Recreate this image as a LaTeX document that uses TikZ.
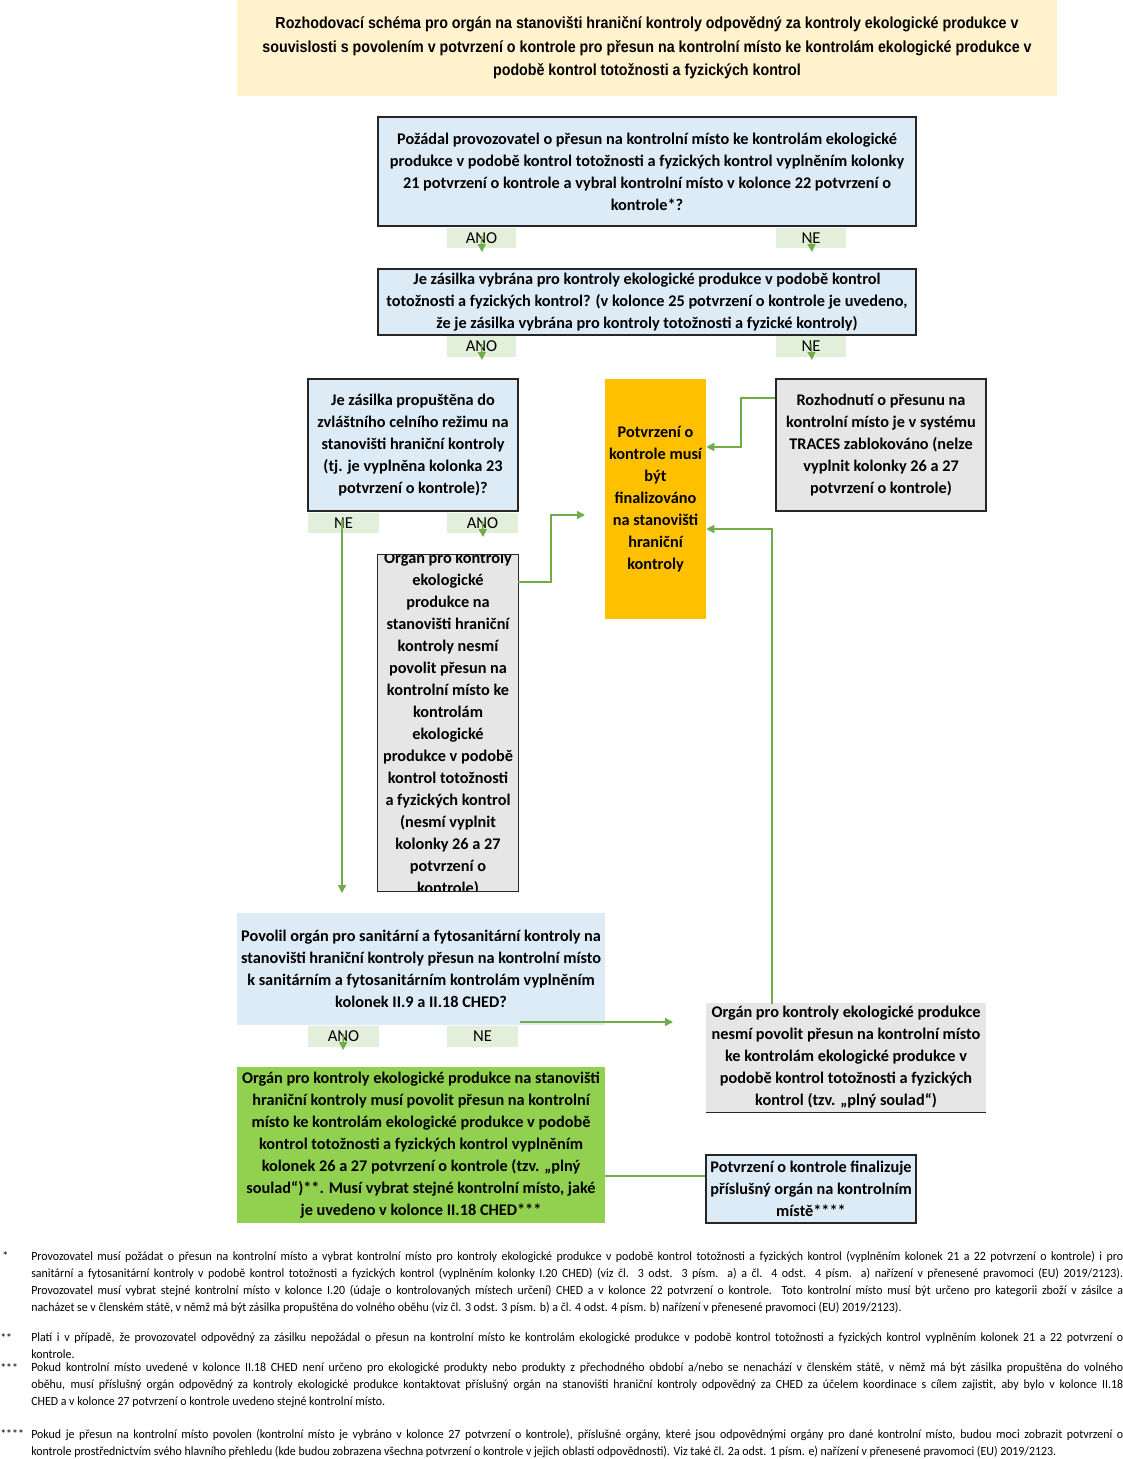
\documentclass[tikz,border=0pt]{standalone}
\usepackage{fontspec}
\setmainfont{Carlito}
\newfontfamily\titlefont[FakeStretch=0.89]{Liberation Sans}
\newfontfamily\fnfont[FakeStretch=0.95]{Carlito}
\usetikzlibrary{arrows.meta}
\definecolor{titlebg}{HTML}{FFF2CC}
\definecolor{lblue}{HTML}{DDEBF7}
\definecolor{lgreen}{HTML}{E2EFDA}
\definecolor{lgray}{HTML}{E7E6E6}
\definecolor{orng}{HTML}{FFC000}
\definecolor{grn}{HTML}{92D050}
\definecolor{conn}{HTML}{70AD47}
\definecolor{bord}{HTML}{262626}
\newcommand\mybox[7]{%
  \pgfmathsetmacro\bw{(#5-#3)*0.75}%
  \pgfmathsetmacro\bh{(#6-#4)*0.75}%
  \node[#2, minimum width=\bw pt, minimum height=\bh pt] (#1) at ({(#3+#5)/2},{(#4+#6)/2}) {#7};}
\begin{document}
\begin{tikzpicture}[x=0.75pt,y=-0.75pt,
  boxtxt/.style={align=center, font=\fontsize{12.2}{16.5}\selectfont\bfseries, inner sep=0pt, text=black},
  qbox/.style={boxtxt, fill=lblue, draw=bord, line width=1.1pt},
  gbox/.style={boxtxt, fill=lgray, draw=bord, line width=1.1pt},
  lbl/.style={fill=lgreen, font=\fontsize{12.5}{14}\selectfont, inner sep=0pt},
  arr/.style={draw=conn, line width=1.1pt, -{Triangle[length=6pt,width=6pt]}},
  ln/.style={draw=conn, line width=1.1pt},
  fn/.style={anchor=north west, text width=819pt, align=justify, font=\fnfont\fontsize{9.4}{12.75}\selectfont, inner sep=0pt},
  fnm/.style={anchor=north west, font=\fnfont\fontsize{9.4}{12.75}\selectfont, inner sep=0pt}]
\useasboundingbox (0,0) rectangle (1123,1459);
\fill[white] (0,0) rectangle (1123,1459);

% title
\mybox{title}{fill=titlebg, align=center, inner sep=0pt, font=\titlefont\fontsize{12}{17.6}\selectfont\bfseries}{237}{0}{1057}{96}{Rozhodovací schéma pro orgán na stanovišti hraniční kontroly odpovědný za kontroly ekologické produkce v\\souvislosti s povolením v potvrzení o kontrole pro přesun na kontrolní místo ke kontrolám ekologické produkce v\\podobě kontrol totožnosti a fyzických kontrol}

% box 1
\mybox{b1}{qbox}{378}{117}{916}{226}{Požádal provozovatel o přesun na kontrolní místo ke kontrolám ekologické\\produkce v podobě kontrol totožnosti a fyzických kontrol vyplněním kolonky\\21 potvrzení o kontrole a vybral kontrolní místo v kolonce 22 potvrzení o\\kontrole*?}
\mybox{ano1}{lbl}{447}{228}{516}{248}{ANO}
\mybox{ne1}{lbl}{776}{228}{846}{248}{NE}

% box 2
\mybox{b2}{qbox}{378}{269}{916}{335}{Je zásilka vybrána pro kontroly ekologické produkce v podobě kontrol\\totožnosti a fyzických kontrol? (v kolonce 25 potvrzení o kontrole je uvedeno,\\že je zásilka vybrána pro kontroly totožnosti a fyzické kontroly)}
\mybox{ano2}{lbl}{447}{336}{516}{357}{ANO}
\mybox{ne2}{lbl}{776}{336}{846}{357}{NE}

% box 3
\mybox{b3}{qbox}{308}{379}{518}{511}{Je zásilka propuštěna do\\zvláštního celního režimu na\\stanovišti hraniční kontroly\\(tj. je vyplněna kolonka 23\\potvrzení o kontrole)?}
\mybox{ne3}{lbl}{308}{513}{379}{533}{NE}
\mybox{ano3}{lbl}{447}{513}{518}{533}{ANO}

% box 4 (clipped text)
\mybox{b4}{boxtxt, fill=lgray}{378}{555}{518}{891}{}
\begin{scope}
\clip (378,555) rectangle (518,891);
\node[boxtxt] (b4t) at (448,724) {Orgán pro kontroly\\ekologické\\produkce na\\stanovišti hraniční\\kontroly nesmí\\povolit přesun na\\kontrolní místo ke\\kontrolám\\ekologické\\produkce v podobě\\kontrol totožnosti\\a fyzických kontrol\\(nesmí vyplnit\\kolonky 26 a 27\\potvrzení o\\kontrole)};
\end{scope}
\draw[draw=bord, line width=1.1pt] (b4.north west) rectangle (b4.south east);

% orange box
\mybox{or}{boxtxt, fill=orng}{605}{379}{706}{619}{Potvrzení o\\kontrole musí\\být\\finalizováno\\na stanovišti\\hraniční\\kontroly}

% box 5
\mybox{b5}{gbox}{776}{379}{986}{511}{Rozhodnutí o přesunu na\\kontrolní místo je v systému\\TRACES zablokováno (nelze\\vyplnit kolonky 26 a 27\\potvrzení o kontrole)}

% box 6
\mybox{b6}{boxtxt, fill=lblue}{237}{913}{605}{1025}{Povolil orgán pro sanitární a fytosanitární kontroly na\\stanovišti hraniční kontroly přesun na kontrolní místo\\k sanitárním a fytosanitárním kontrolám vyplněním\\kolonek II.9 a II.18 CHED?}
\mybox{ano4}{lbl}{308}{1026}{379}{1047}{ANO}
\mybox{ne4}{lbl}{447}{1026}{518}{1047}{NE}

% box 7
\mybox{b7}{boxtxt, fill=lgray}{706}{1003}{986}{1112}{Orgán pro kontroly ekologické produkce\\nesmí povolit přesun na kontrolní místo\\ke kontrolám ekologické produkce v\\podobě kontrol totožnosti a fyzických\\kontrol (tzv. „plný soulad“)}
\draw[draw=bord, line width=1.1pt] (b7.south west) -- (b7.south east);

% green box
\mybox{gb}{boxtxt, fill=grn}{237}{1067}{605}{1223}{Orgán pro kontroly ekologické produkce na stanovišti\\hraniční kontroly musí povolit přesun na kontrolní\\místo ke kontrolám ekologické produkce v podobě\\kontrol totožnosti a fyzických kontrol vyplněním\\kolonek 26 a 27 potvrzení o kontrole (tzv. „plný\\soulad“)**. Musí vybrat stejné kontrolní místo, jaké\\je uvedeno v kolonce II.18 CHED***}

% box 8
\mybox{b8}{qbox}{706}{1155}{916}{1223}{Potvrzení o kontrole finalizuje\\příslušný orgán na kontrolním\\místě****}

% short arrows
\coordinate (t1) at (482,252);
\coordinate (t2) at (812,252);
\coordinate (t3) at (482,360);
\coordinate (t4) at (812,360);
\coordinate (t5) at (483,537);
\coordinate (t6) at (343,1050);
\draw[arr] (ano1.center |- 0,236) -- (t1);
\draw[arr] (ne1.center |- 0,236) -- (t2);
\draw[arr] (ano2.center |- 0,344) -- (t3);
\draw[arr] (ne2.center |- 0,344) -- (t4);
\draw[arr] (ano3.center |- 0,521) -- (t5);
\draw[arr] (ano4.center |- 0,1034) -- (t6);

% long connectors
\coordinate (ne3end) at (342,893);
\draw[arr] (342,520) -- (ne3end);
\coordinate (b4end) at (585,515);
\draw[arr] (b4.east |- 0,582) -- (551,582) -- (551,515) -- (b4end);
\draw[arr] (b5.west |- 0,398) -- (741,398) -- (741,447) -- (or.east |- 0,447);
\draw[arr] (772,1004) -- (772,529) -- (or.east |- 0,529);
\coordinate (ne4end) at (673,1022);
\draw[arr] (520,1022) -- (ne4end);
\draw[ln] (gb.east |- 0,1176) -- (b8.west |- 0,1176);

% footnotes
\node[fnm] (m1) at (2,1251) {*};
\node[fn] (f1) at (31,1251) {Provozovatel musí požádat o přesun na kontrolní místo a vybrat kontrolní místo pro kontroly ekologické produkce v podobě kontrol totožnosti a fyzických kontrol (vyplněním kolonek 21 a 22 potvrzení o kontrole) i pro\linebreak sanitární a fytosanitární kontroly v podobě kontrol totožnosti a fyzických kontrol (vyplněním kolonky I.20 CHED) (viz čl. 3 odst. 3 písm. a) a čl. 4 odst. 4 písm. a) nařízení v přenesené pravomoci (EU) 2019/2123).\linebreak Provozovatel musí vybrat stejné kontrolní místo v kolonce I.20 (údaje o kontrolovaných místech určení) CHED a v kolonce 22 potvrzení o kontrole. Toto kontrolní místo musí být určeno pro kategorii zboží v zásilce a\linebreak nacházet se v členském státě, v němž má být zásilka propuštěna do volného oběhu (viz čl. 3 odst. 3 písm. b) a čl. 4 odst. 4 písm. b) nařízení v přenesené pravomoci (EU) 2019/2123).};
\node[fnm] (m2) at (0,1333) {**};
\node[fn] (f2) at (31,1333) {Platí i v případě, že provozovatel odpovědný za zásilku nepožádal o přesun na kontrolní místo ke kontrolám ekologické produkce v podobě kontrol totožnosti a fyzických kontrol vyplněním kolonek 21 a 22 potvrzení o\linebreak kontrole.};
\node[fnm] (m3) at (0,1363) {***};
\node[fn] (f3) at (31,1363) {Pokud kontrolní místo uvedené v kolonce II.18 CHED není určeno pro ekologické produkty nebo produkty z přechodného období a/nebo se nenachází v členském státě, v němž má být zásilka propuštěna do volného\linebreak oběhu, musí příslušný orgán odpovědný za kontroly ekologické produkce kontaktovat příslušný orgán na stanovišti hraniční kontroly odpovědný za CHED za účelem koordinace s cílem zajistit, aby bylo v kolonce II.18\linebreak CHED a v kolonce 27 potvrzení o kontrole uvedeno stejné kontrolní místo.};
\node[fnm] (m4) at (0,1429) {****};
\node[fn] (f4) at (31,1429) {Pokud je přesun na kontrolní místo povolen (kontrolní místo je vybráno v kolonce 27 potvrzení o kontrole), příslušné orgány, které jsou odpovědnými orgány pro dané kontrolní místo, budou moci zobrazit potvrzení o\linebreak kontrole prostřednictvím svého hlavního přehledu (kde budou zobrazena všechna potvrzení o kontrole v jejich oblasti odpovědnosti). Viz také čl. 2a odst. 1 písm. e) nařízení v přenesené pravomoci (EU) 2019/2123.};
\end{tikzpicture}
\end{document}
